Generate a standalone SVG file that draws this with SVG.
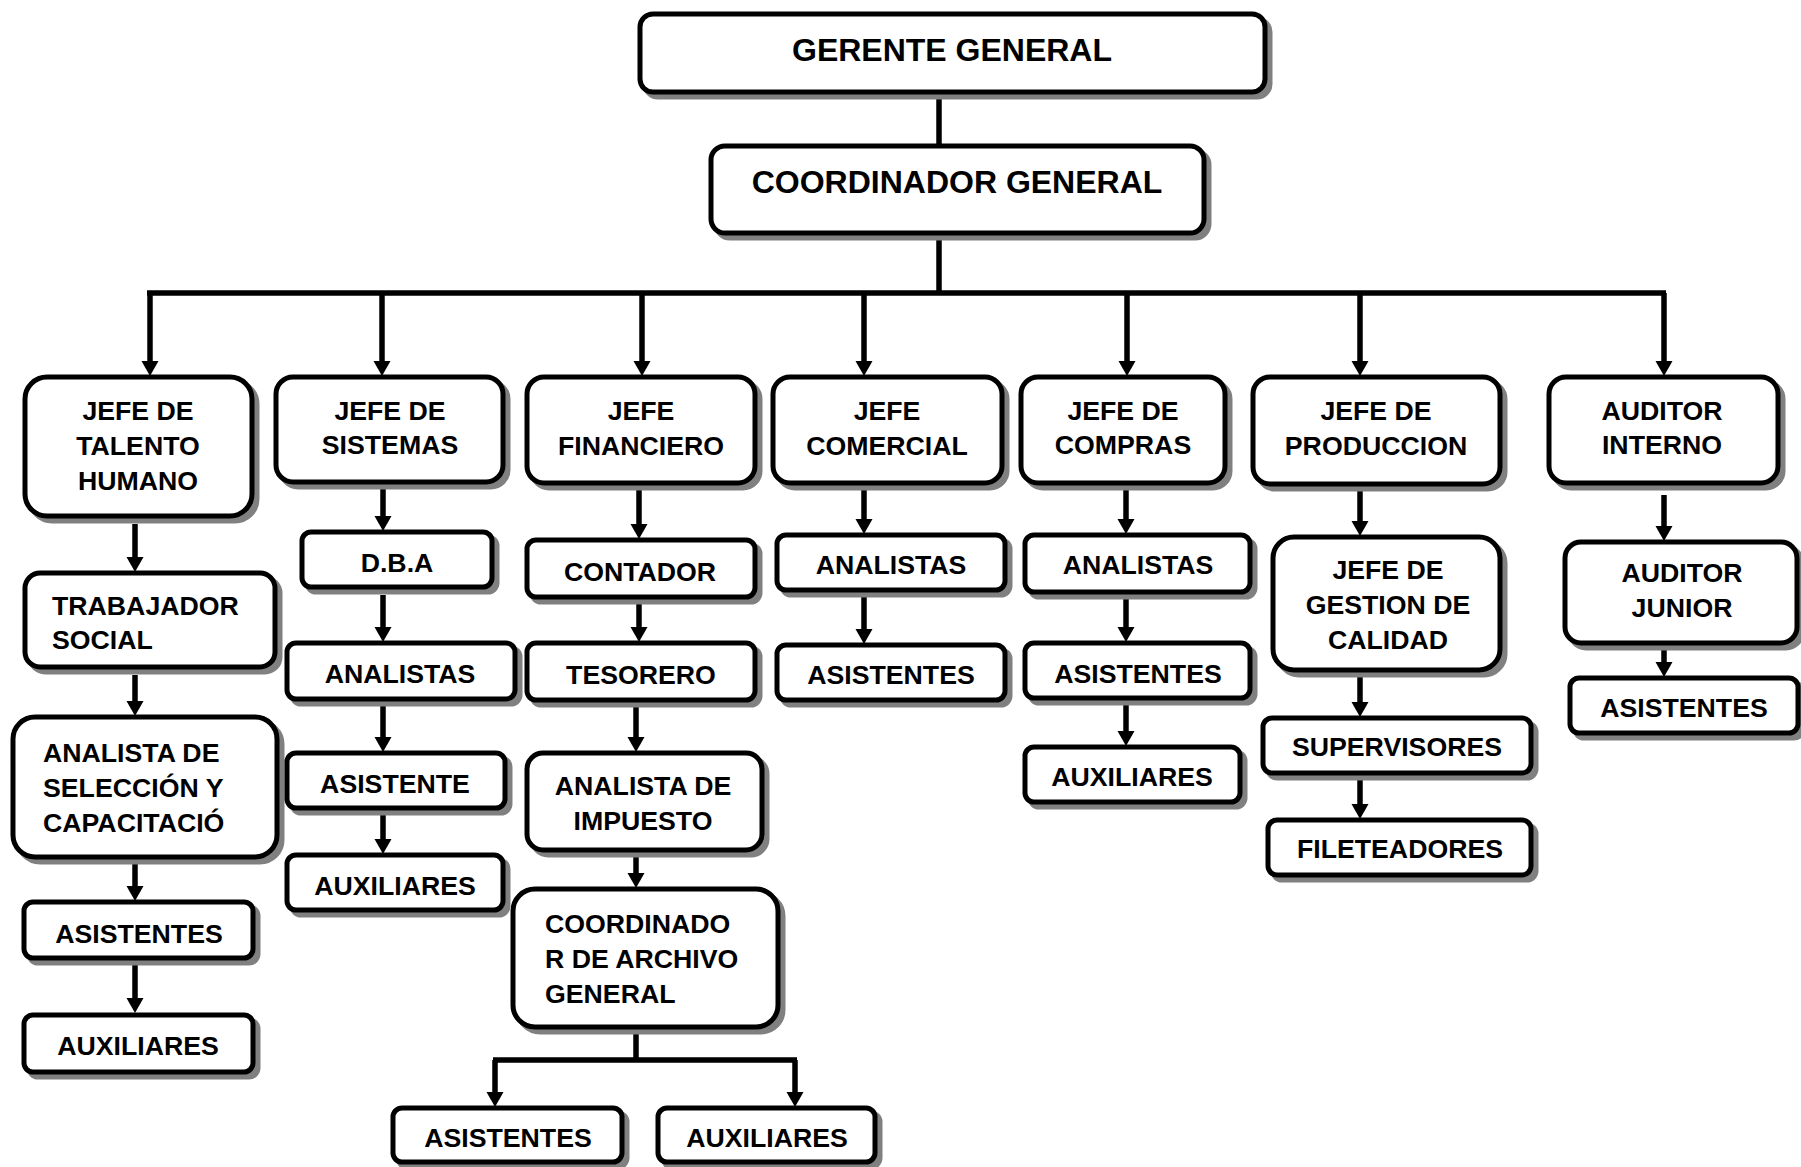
<svg xmlns="http://www.w3.org/2000/svg" width="1801" height="1167" viewBox="0 0 1801 1167">
  <style>
    .sh { fill: #808080; stroke: #808080; stroke-width: 5; }
    .box { fill: #ffffff; stroke: #000000; stroke-width: 5; }
    .t { font-family: "Liberation Sans", Arial, Helvetica, sans-serif; font-weight: bold; font-size: 26.7px; fill: #000000; }
    .c { text-anchor: middle; }
    .big { font-size: 32px; }
    .ln { stroke: #000000; stroke-width: 5.5; fill: none; }
    .ar { marker-end: url(#head); }
  </style>
  <defs>
    <marker id="head" viewBox="0 -9 15 18" refX="0" refY="0" markerWidth="15" markerHeight="18" markerUnits="userSpaceOnUse" orient="auto">
      <path d="M0,-8.5 L15,0 L0,8.5 Z" fill="#000000"/>
    </marker>
  </defs>

  <!-- connectors -->
  <g id="connectors">
    <path class="ln" d="M939,92 V146"/>
    <path class="ln" d="M939,233 V293 M147,293 H1666"/>
    <!-- drops from the trunk to each department head -->
    <path class="ln ar" d="M150,293 V361"/>
    <path class="ln ar" d="M382,293 V361"/>
    <path class="ln ar" d="M642,293 V361"/>
    <path class="ln ar" d="M864,293 V361"/>
    <path class="ln ar" d="M1127,293 V361"/>
    <path class="ln ar" d="M1360,293 V361"/>
    <path class="ln ar" d="M1664,293 V361"/>
    <!-- talento humano column -->
    <path class="ln ar" d="M135,524 V557"/>
    <path class="ln ar" d="M135,675 V701"/>
    <path class="ln ar" d="M135,862 V886"/>
    <path class="ln ar" d="M135,964 V998"/>
    <!-- sistemas column -->
    <path class="ln ar" d="M383,488 V516"/>
    <path class="ln ar" d="M383,595 V627"/>
    <path class="ln ar" d="M383,705 V737"/>
    <path class="ln ar" d="M383,812 V839"/>
    <!-- financiero column -->
    <path class="ln ar" d="M639,489 V524"/>
    <path class="ln ar" d="M639,600 V627"/>
    <path class="ln ar" d="M636,705 V737"/>
    <path class="ln ar" d="M636,855 V873"/>
    <path class="ln" d="M636,1029 V1060 M493,1060 H797"/>
    <path class="ln ar" d="M495,1060 V1092"/>
    <path class="ln ar" d="M795,1060 V1092"/>
    <!-- comercial column -->
    <path class="ln ar" d="M864,488 V519"/>
    <path class="ln ar" d="M864,595 V629"/>
    <!-- compras column -->
    <path class="ln ar" d="M1126,488 V519"/>
    <path class="ln ar" d="M1126,597 V627"/>
    <path class="ln ar" d="M1126,703 V731"/>
    <!-- produccion column -->
    <path class="ln ar" d="M1360,490 V521"/>
    <path class="ln ar" d="M1360,675 V702"/>
    <path class="ln ar" d="M1360,778 V804"/>
    <!-- auditoria column -->
    <path class="ln ar" d="M1664,495 V526"/>
    <path class="ln ar" d="M1664,648 V662"/>
  </g>

  <!-- top management -->
  <g id="gerente-general">
    <rect class="sh" x="645" y="19" width="625" height="78" rx="13"/>
    <rect class="box" x="640" y="14" width="625" height="78" rx="13"/>
    <text class="t c big" x="952" y="61">GERENTE GENERAL</text>
  </g>
  <g id="coordinador-general">
    <rect class="sh" x="716" y="151" width="493" height="87" rx="14"/>
    <rect class="box" x="711" y="146" width="493" height="87" rx="14"/>
    <text class="t c big" x="957" y="193">COORDINADOR GENERAL</text>
  </g>

  <!-- department heads -->
  <g id="jefe-talento-humano">
    <rect class="sh" x="30" y="382" width="227" height="139" rx="22"/>
    <rect class="box" x="25" y="377" width="227" height="139" rx="22"/>
    <text class="t c" x="138" y="420">JEFE DE</text>
    <text class="t c" x="138" y="455">TALENTO</text>
    <text class="t c" x="138" y="490">HUMANO</text>
  </g>
  <g id="jefe-sistemas">
    <rect class="sh" x="281" y="382" width="227" height="105" rx="17"/>
    <rect class="box" x="276" y="377" width="227" height="105" rx="17"/>
    <text class="t c" x="390" y="420">JEFE DE</text>
    <text class="t c" x="390" y="454">SISTEMAS</text>
  </g>
  <g id="jefe-financiero">
    <rect class="sh" x="532" y="382" width="228" height="106" rx="17"/>
    <rect class="box" x="527" y="377" width="228" height="106" rx="17"/>
    <text class="t c" x="641" y="420">JEFE</text>
    <text class="t c" x="641" y="455">FINANCIERO</text>
  </g>
  <g id="jefe-comercial">
    <rect class="sh" x="778" y="382" width="229" height="106" rx="17"/>
    <rect class="box" x="773" y="377" width="229" height="106" rx="17"/>
    <text class="t c" x="887" y="420">JEFE</text>
    <text class="t c" x="887" y="455">COMERCIAL</text>
  </g>
  <g id="jefe-compras">
    <rect class="sh" x="1026" y="382" width="204" height="106" rx="17"/>
    <rect class="box" x="1021" y="377" width="204" height="106" rx="17"/>
    <text class="t c" x="1123" y="420">JEFE DE</text>
    <text class="t c" x="1123" y="454">COMPRAS</text>
  </g>
  <g id="jefe-produccion">
    <rect class="sh" x="1258" y="382" width="247" height="107" rx="17"/>
    <rect class="box" x="1253" y="377" width="247" height="107" rx="17"/>
    <text class="t c" x="1376" y="420">JEFE DE</text>
    <text class="t c" x="1376" y="455">PRODUCCION</text>
  </g>
  <g id="auditor-interno">
    <rect class="sh" x="1554" y="382" width="229" height="106" rx="17"/>
    <rect class="box" x="1549" y="377" width="229" height="106" rx="17"/>
    <text class="t c" x="1662" y="420">AUDITOR</text>
    <text class="t c" x="1662" y="454">INTERNO</text>
  </g>

  <!-- talento humano -->
  <g id="trabajador-social">
    <rect class="sh" x="30" y="578" width="250" height="94" rx="15"/>
    <rect class="box" x="25" y="573" width="250" height="94" rx="15"/>
    <text class="t" x="52" y="615">TRABAJADOR</text>
    <text class="t" x="52" y="649">SOCIAL</text>
  </g>
  <g id="analista-seleccion">
    <rect class="sh" x="18" y="722" width="264" height="140" rx="22"/>
    <rect class="box" x="13" y="717" width="264" height="140" rx="22"/>
    <text class="t" x="43" y="762">ANALISTA DE</text>
    <text class="t" x="43" y="797">SELECCIÓN Y</text>
    <text class="t" x="43" y="832">CAPACITACIÓ</text>
  </g>
  <g id="asistentes-th">
    <rect class="sh" x="29" y="907" width="229" height="56" rx="9"/>
    <rect class="box" x="24" y="902" width="229" height="56" rx="9"/>
    <text class="t c" x="139" y="943">ASISTENTES</text>
  </g>
  <g id="auxiliares-th">
    <rect class="sh" x="29" y="1020" width="229" height="57" rx="9"/>
    <rect class="box" x="24" y="1015" width="229" height="57" rx="9"/>
    <text class="t c" x="138" y="1055">AUXILIARES</text>
  </g>

  <!-- sistemas -->
  <g id="dba">
    <rect class="sh" x="307" y="537" width="190" height="55" rx="9"/>
    <rect class="box" x="302" y="532" width="190" height="55" rx="9"/>
    <text class="t c" x="397" y="572">D.B.A</text>
  </g>
  <g id="analistas-sistemas">
    <rect class="sh" x="292" y="648" width="228" height="56" rx="9"/>
    <rect class="box" x="287" y="643" width="228" height="56" rx="9"/>
    <text class="t c" x="400" y="683">ANALISTAS</text>
  </g>
  <g id="asistente-sistemas">
    <rect class="sh" x="292" y="758" width="218" height="55" rx="9"/>
    <rect class="box" x="287" y="753" width="218" height="55" rx="9"/>
    <text class="t c" x="395" y="793">ASISTENTE</text>
  </g>
  <g id="auxiliares-sistemas">
    <rect class="sh" x="292" y="860" width="216" height="55" rx="9"/>
    <rect class="box" x="287" y="855" width="216" height="55" rx="9"/>
    <text class="t c" x="395" y="895">AUXILIARES</text>
  </g>

  <!-- financiero -->
  <g id="contador">
    <rect class="sh" x="532" y="545" width="228" height="57" rx="9"/>
    <rect class="box" x="527" y="540" width="228" height="57" rx="9"/>
    <text class="t c" x="640" y="581">CONTADOR</text>
  </g>
  <g id="tesorero">
    <rect class="sh" x="532" y="648" width="228" height="57" rx="9"/>
    <rect class="box" x="527" y="643" width="228" height="57" rx="9"/>
    <text class="t c" x="641" y="684">TESORERO</text>
  </g>
  <g id="analista-impuesto">
    <rect class="sh" x="532" y="758" width="235" height="97" rx="16"/>
    <rect class="box" x="527" y="753" width="235" height="97" rx="16"/>
    <text class="t c" x="643" y="795">ANALISTA DE</text>
    <text class="t c" x="643" y="830">IMPUESTO</text>
  </g>
  <g id="coordinador-archivo">
    <rect class="sh" x="518" y="894" width="265" height="138" rx="22"/>
    <rect class="box" x="513" y="889" width="265" height="138" rx="22"/>
    <text class="t" x="545" y="933">COORDINADO</text>
    <text class="t" x="545" y="968">R DE ARCHIVO</text>
    <text class="t" x="545" y="1003">GENERAL</text>
  </g>
  <g id="asistentes-archivo">
    <rect class="sh" x="398" y="1113" width="229" height="54" rx="9"/>
    <rect class="box" x="393" y="1108" width="229" height="54" rx="9"/>
    <text class="t c" x="508" y="1147">ASISTENTES</text>
  </g>
  <g id="auxiliares-archivo">
    <rect class="sh" x="663" y="1113" width="217" height="54" rx="9"/>
    <rect class="box" x="658" y="1108" width="217" height="54" rx="9"/>
    <text class="t c" x="767" y="1147">AUXILIARES</text>
  </g>

  <!-- comercial -->
  <g id="analistas-comercial">
    <rect class="sh" x="782" y="540" width="228" height="55" rx="9"/>
    <rect class="box" x="777" y="535" width="228" height="55" rx="9"/>
    <text class="t c" x="891" y="574">ANALISTAS</text>
  </g>
  <g id="asistentes-comercial">
    <rect class="sh" x="782" y="650" width="228" height="55" rx="9"/>
    <rect class="box" x="777" y="645" width="228" height="55" rx="9"/>
    <text class="t c" x="891" y="684">ASISTENTES</text>
  </g>

  <!-- compras -->
  <g id="analistas-compras">
    <rect class="sh" x="1030" y="540" width="225" height="57" rx="9"/>
    <rect class="box" x="1025" y="535" width="225" height="57" rx="9"/>
    <text class="t c" x="1138" y="574">ANALISTAS</text>
  </g>
  <g id="asistentes-compras">
    <rect class="sh" x="1030" y="648" width="225" height="55" rx="9"/>
    <rect class="box" x="1025" y="643" width="225" height="55" rx="9"/>
    <text class="t c" x="1138" y="683">ASISTENTES</text>
  </g>
  <g id="auxiliares-compras">
    <rect class="sh" x="1030" y="752" width="215" height="55" rx="9"/>
    <rect class="box" x="1025" y="747" width="215" height="55" rx="9"/>
    <text class="t c" x="1132" y="786">AUXILIARES</text>
  </g>

  <!-- produccion -->
  <g id="jefe-gestion-calidad">
    <rect class="sh" x="1278" y="542" width="227" height="133" rx="21"/>
    <rect class="box" x="1273" y="537" width="227" height="133" rx="21"/>
    <text class="t c" x="1388" y="579">JEFE DE</text>
    <text class="t c" x="1388" y="614">GESTION DE</text>
    <text class="t c" x="1388" y="649">CALIDAD</text>
  </g>
  <g id="supervisores">
    <rect class="sh" x="1268" y="723" width="268" height="55" rx="9"/>
    <rect class="box" x="1263" y="718" width="268" height="55" rx="9"/>
    <text class="t c" x="1397" y="756">SUPERVISORES</text>
  </g>
  <g id="fileteadores">
    <rect class="sh" x="1273" y="825" width="263" height="55" rx="9"/>
    <rect class="box" x="1268" y="820" width="263" height="55" rx="9"/>
    <text class="t c" x="1400" y="858">FILETEADORES</text>
  </g>

  <!-- auditoria -->
  <g id="auditor-junior">
    <rect class="sh" x="1570" y="547" width="232" height="101" rx="16"/>
    <rect class="box" x="1565" y="542" width="232" height="101" rx="16"/>
    <text class="t c" x="1682" y="582">AUDITOR</text>
    <text class="t c" x="1682" y="617">JUNIOR</text>
  </g>
  <g id="asistentes-auditoria">
    <rect class="sh" x="1575" y="683" width="228" height="55" rx="9"/>
    <rect class="box" x="1570" y="678" width="228" height="55" rx="9"/>
    <text class="t c" x="1684" y="717">ASISTENTES</text>
  </g>
</svg>
